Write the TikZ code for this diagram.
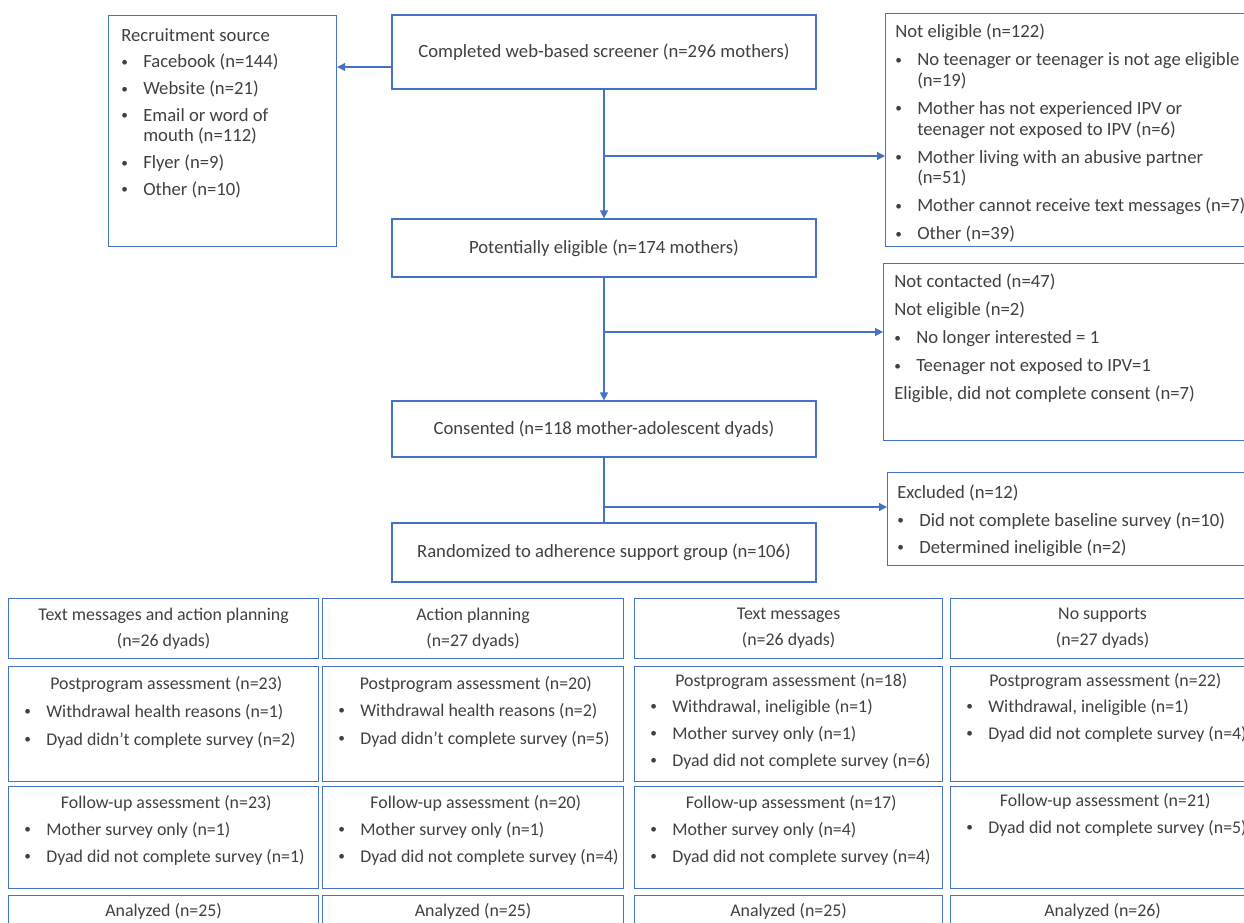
\documentclass[tikz,border=0pt]{standalone}
\usepackage{fontspec}
\setmainfont{Carlito}
\usetikzlibrary{arrows.meta, positioning}
\definecolor{boxBlue}{HTML}{4472C4}
\definecolor{textDark}{HTML}{404040}
\newcommand{\bul}{\makebox[16.5pt][l]{\raisebox{1.2pt}{\fontsize{10}{10}\selectfont\textbullet}}}
\newcommand{\ind}{\hspace*{16.5pt}}
\newcommand{\fl}{\rule{0pt}{10.5pt}}
\tikzset{
  stagebox/.style={draw=boxBlue, line width=0.9pt, text=textDark, font=\fontsize{14}{15.5}\selectfont, align=center},
  sidebox/.style={draw=boxBlue, line width=0.9pt, anchor=north west, inner sep=0pt},
  armbox/.style={draw=boxBlue, line width=0.9pt, anchor=north west, text=textDark, font=\fontsize{13.4}{15.5}\selectfont, align=center},
  listtext/.style={text=textDark, font=\fontsize{14}{15.5}\selectfont, align=left, inner sep=0pt},
  armtext/.style={text=textDark, font=\fontsize{13.4}{15.5}\selectfont, align=left, inner sep=0pt},
  flowarr/.style={-{Triangle[length=6pt, width=6pt]}, draw=boxBlue, line width=0.9pt},
  flowline/.style={draw=boxBlue, line width=0.9pt},
}
\begin{document}
\begin{tikzpicture}[x=0.75pt, y=-0.75pt]
  \clip (0,0) rectangle (1244,922);
  % screening stages
  \node[stagebox, minimum width=318pt, minimum height=55.5pt] (scr) at (604,52) {Completed web-based screener (n=296 mothers)};
  \node[stagebox, minimum width=318pt, minimum height=43.5pt] (pe) at (604,248) {Potentially eligible (n=174 mothers)};
  \node[stagebox, minimum width=318pt, minimum height=42pt] (cons) at (604,429) {Consented (n=118 mother-adolescent dyads)};
  \node[stagebox, minimum width=318pt, minimum height=44.25pt] (rnd) at (604,552.5) {Randomized to adherence support group (n=106)};

  % side boxes
  \node[sidebox, minimum width=171pt, minimum height=173.25pt] (rec) at (108,15) {};
  \node[listtext, below right=9pt and 9.75pt of rec.north west] (recT) {\fl Recruitment source\\[4.5pt]
    \bul Facebook (n=144)\\[4.5pt]
    \bul Website (n=21)\\[4.5pt]
    \bul Email or word of\\ \ind mouth (n=112)\\[4.5pt]
    \bul Flyer (n=9)\\[4.5pt]
    \bul Other (n=10)};
  \node[sidebox, minimum width=300pt, minimum height=174.75pt] (inel) at (885,13) {};
  \node[listtext, below right=7.8pt and 7.5pt of inel.north west] (inelT) {\fl Not eligible (n=122)\\[5.5pt]
    \bul No teenager or teenager is not age eligible\\ \ind (n=19)\\[5.5pt]
    \bul Mother has not experienced IPV or\\ \ind teenager not exposed to IPV (n=6)\\[5.5pt]
    \bul Mother living with an abusive partner\\ \ind (n=51)\\[5.5pt]
    \bul Mother cannot receive text messages (n=7)\\[5.5pt]
    \bul Other (n=39)};
  \node[sidebox, minimum width=300pt, minimum height=132.75pt] (nocon) at (883,263) {};
  \node[listtext, below right=8pt and 8.25pt of nocon.north west] (noconT) {\fl Not contacted (n=47)\\[5.5pt]
    Not eligible (n=2)\\[5.5pt]
    \bul No longer interested = 1\\[5.5pt]
    \bul Teenager not exposed to IPV=1\\[5.5pt]
    Eligible, did not complete consent (n=7)};
  \node[sidebox, minimum width=300pt, minimum height=69.75pt] (excl) at (887,472) {};
  \node[listtext, below right=9.3pt and 7.5pt of excl.north west] (exclT) {\fl Excluded (n=12)\\[5pt]
    \bul Did not complete baseline survey (n=10)\\[5pt]
    \bul Determined ineligible (n=2)};

  % study arms
  \node[armbox, minimum width=232.5pt, minimum height=45pt] (c1grp) at (8,598) {Text messages and action planning\\[4pt](n=26 dyads)};
  \node[armbox, minimum width=225.75pt, minimum height=45pt] (c2grp) at (322,598) {Action planning\\[4pt](n=27 dyads)};
  \node[armbox, minimum width=231pt, minimum height=45pt] (c3grp) at (634,598) {Text messages\\[4pt](n=26 dyads)};
  \node[armbox, minimum width=228pt, minimum height=45pt] (c4grp) at (950,598) {No supports\\[4pt](n=27 dyads)};

  \node[armbox, minimum width=232.5pt, minimum height=86.25pt] (c1post) at (8,666) {};
  \node[armbox, minimum width=225.75pt, minimum height=86.25pt] (c2post) at (322,666) {};
  \node[armbox, minimum width=231pt, minimum height=86.25pt] (c3post) at (634,666) {};
  \node[armbox, minimum width=228pt, minimum height=86.25pt] (c4post) at (950,666) {};
  \node[armtext, below=6.6pt of c1post.north, xshift=2pt] (c1postH) {\fl Postprogram assessment (n=23)};
  \node[armtext, below right=27.7pt and 12pt of c1post.north west] (c1postL) {\fl\bul Withdrawal health reasons (n=1)\\[5.5pt]
    \bul Dyad didn’t complete survey (n=2)};
  \node[armtext, below=6.6pt of c2post.north, xshift=2pt] (c2postH) {\fl Postprogram assessment (n=20)};
  \node[armtext, below right=27pt and 12pt of c2post.north west] (c2postL) {\fl\bul Withdrawal health reasons (n=2)\\[5.5pt]
    \bul Dyad didn’t complete survey (n=5)};
  \node[armtext, below=4.5pt of c3post.north, xshift=2pt] (c3postH) {\fl Postprogram assessment (n=18)};
  \node[armtext, below right=24pt and 12pt of c3post.north west] (c3postL) {\fl\bul Withdrawal, ineligible (n=1)\\[4.75pt]
    \bul Mother survey only (n=1)\\[4.75pt]
    \bul Dyad did not complete survey (n=6)};
  \node[armtext, below=4.5pt of c4post.north, xshift=2pt] (c4postH) {\fl Postprogram assessment (n=22)};
  \node[armtext, below right=24pt and 12pt of c4post.north west] (c4postL) {\fl\bul Withdrawal, ineligible (n=1)\\[4.75pt]
    \bul Dyad did not complete survey (n=4)};

  \node[armbox, minimum width=232.5pt, minimum height=76.5pt] (c1fu) at (8,786) {};
  \node[armbox, minimum width=225.75pt, minimum height=76.5pt] (c2fu) at (322,786) {};
  \node[armbox, minimum width=231pt, minimum height=76.5pt] (c3fu) at (634,786) {};
  \node[armbox, minimum width=228pt, minimum height=76.5pt] (c4fu) at (950,786) {};
  \node[armtext, below=6pt of c1fu.north, xshift=2pt] (c1fuH) {\fl Follow-up assessment (n=23)};
  \node[armtext, below right=26.2pt and 12pt of c1fu.north west] (c1fuL) {\fl\bul Mother survey only (n=1)\\[4.75pt]
    \bul Dyad did not complete survey (n=1)};
  \node[armtext, below=6pt of c2fu.north, xshift=2pt] (c2fuH) {\fl Follow-up assessment (n=20)};
  \node[armtext, below right=26.2pt and 12pt of c2fu.north west] (c2fuL) {\fl\bul Mother survey only (n=1)\\[4.75pt]
    \bul Dyad did not complete survey (n=4)};
  \node[armtext, below=6pt of c3fu.north, xshift=2pt] (c3fuH) {\fl Follow-up assessment (n=17)};
  \node[armtext, below right=26.2pt and 12pt of c3fu.north west] (c3fuL) {\fl\bul Mother survey only (n=4)\\[4.75pt]
    \bul Dyad did not complete survey (n=4)};
  \node[armtext, below=5pt of c4fu.north, xshift=2pt] (c4fuH) {\fl Follow-up assessment (n=21)};
  \node[armtext, below right=24.6pt and 12pt of c4fu.north west] (c4fuL) {\fl\bul Dyad did not complete survey (n=5)};

  \node[armbox, minimum width=232.5pt, minimum height=24pt] (c1an) at (8,895) {Analyzed (n=25)};
  \node[armbox, minimum width=225.75pt, minimum height=24pt] (c2an) at (322,895) {Analyzed (n=25)};
  \node[armbox, minimum width=231pt, minimum height=24pt] (c3an) at (634,895) {Analyzed (n=25)};
  \node[armbox, minimum width=228pt, minimum height=24pt] (c4an) at (950,895) {Analyzed (n=26)};

  % connectors
  \coordinate (j0) at (392,67);
  \coordinate (j1) at (604,156);
  \coordinate (j2) at (604,332);
  \coordinate (j3) at (604,507);
  \draw[flowarr] (scr.west |- j0) -- (rec.east |- j0);
  \draw[flowarr] (scr.south) -- (pe.north);
  \draw[flowarr] (j1) -- (j1 -| inel.west);
  \draw[flowarr] (pe.south) -- (cons.north);
  \draw[flowarr] (j2) -- (j2 -| nocon.west);
  \draw[flowline] (cons.south) -- (rnd.north);
  \draw[flowarr] (j3) -- (j3 -| excl.west);
\end{tikzpicture}
\end{document}
